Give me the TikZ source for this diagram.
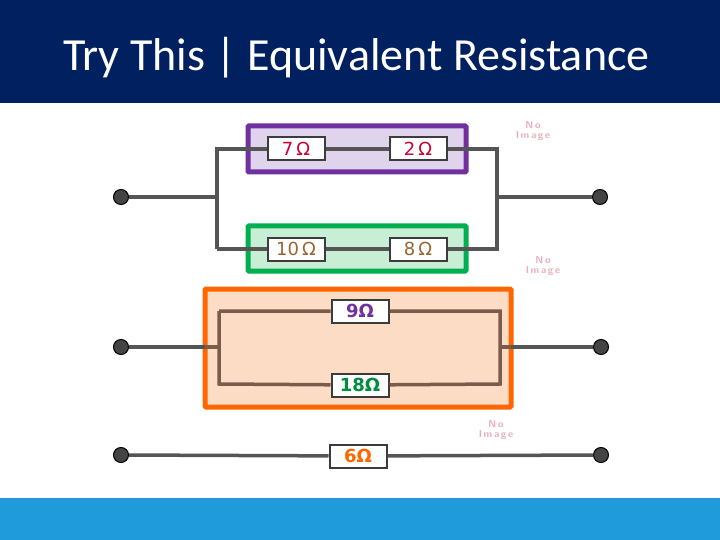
\documentclass[tikz,border=0pt]{standalone}
\usepackage{fontspec}
\setmainfont{Carlito}
\newfontfamily\symfont{DejaVu Sans}
\definecolor{navy}{HTML}{002060}
\definecolor{barblue}{HTML}{1F9BDB}
\definecolor{wiregray}{HTML}{555555}
\definecolor{wirebrown}{HTML}{7B5B4A}
\definecolor{purp}{HTML}{7030A0}
\definecolor{purpfill}{HTML}{E0D4EC}
\definecolor{grn}{HTML}{00B050}
\definecolor{grnfill}{HTML}{C9EED6}
\definecolor{orng}{HTML}{FF6600}
\definecolor{orngfill}{HTML}{FDDCC6}
\definecolor{noimg}{HTML}{E08A9A}
\begin{document}
\begin{tikzpicture}
[x=1pt, y=-1pt,
 every node/.style={inner sep=0pt},
 wire/.style={line width=3.5pt, color=wiregray},
 inwire/.style={line width=3.5pt, color=wirebrown},
 terminal/.style={circle, minimum size=15pt, fill=wiregray!80!black, draw=black, line width=1pt},
 res/.style={rectangle, minimum width=57pt, minimum height=23pt, fill=white, draw=wiregray!70!black, line width=2pt, font=\symfont\fontsize{18}{18}\selectfont},
 group/.style={line width=5pt, rounded corners=1pt},
 noimage/.style={font=\sffamily\bfseries\fontsize{10}{10}\selectfont, color=noimg!70!white, align=center}]
\useasboundingbox (0,0) rectangle (720,540);
\fill[navy] (0,0) rectangle (720,103);
\fill[barblue] (0,498) rectangle (720,540);
\node (title) [anchor=west] at (63,58) {\color{white}\fontsize{46}{46}\selectfont Try This | Equivalent Resistance};
% group boxes
\draw[group, draw=purp, fill=purpfill] (248,126) rectangle (466,172);
\draw[group, draw=grn, fill=grnfill] (248,226) rectangle (466,271);
\draw[group, draw=orng, fill=orngfill] (205,289) rectangle (511,407);
% first circuit
\node (t1l) [terminal] at (121,197) {};
\node (t1r) [terminal] at (600,197) {};
\coordinate (jl) at (217,197);
\coordinate (jr) at (497,197);
\coordinate (jlu) at (217,149);
\coordinate (jld) at (217,249);
\coordinate (jru) at (497,149);
\coordinate (jrd) at (497,249);
\node (r7) [res, text=purple!80!red] at (296,149) {7\,Ω};
\node (r2) [res, text=purple!80!red] at (418,149) {2\,Ω};
\node (r10) [res, text=brown!80!black] at (296,249) {10\,Ω};
\node (r8) [res, text=brown!80!black] at (418,249) {8\,Ω};
\draw[wire] (t1l) -- (jl) (jr) -- (t1r);
\draw[wire] (jld) -- (jlu) -- (r7) -- (r2) -- (jru) -- (jrd) -- (r8) -- (r10) -- (jld);
% second circuit
\node (t2l) [terminal] at (121,347) {};
\node (t2r) [terminal] at (601,347) {};
\coordinate (kl) at (219,347);
\coordinate (kr) at (500,347);
\coordinate (klu) at (219,311);
\coordinate (kld) at (219,384);
\coordinate (kru) at (500,311);
\coordinate (krd) at (500,384);
\draw[wire] (t2l) -- (205,347) (511,347) -- (t2r);
\draw[inwire] (205,347) -- (kl) (kr) -- (511,347);
\node (r9) [res, text=purp] at (360,311) {\bfseries 9Ω};
\node (r18) [res, text=grn!80!black] at (360,385) {\bfseries 18Ω};
\draw[inwire] (klu) -- (kld) -- (r18) -- (krd) -- (kru) -- (r9) -- (klu);
% third circuit
\node (t3l) [terminal] at (121,455) {};
\node (t3r) [terminal] at (601,455) {};
\node (r6) [res, text=orng] at (358,456) {\bfseries 6Ω};
\draw[wire] (t3l) -- (r6) -- (t3r);
% placeholders
\node (ni1) [noimage] at (533,131) {N\hspace{2pt}o\\I\,m\,a\,g\,e};
\node (ni2) [noimage] at (543,266) {N\hspace{2pt}o\\I\,m\,a\,g\,e};
\node (ni3) [noimage] at (496,430) {N\hspace{2pt}o\\I\,m\,a\,g\,e};
\end{tikzpicture}
\end{document}
